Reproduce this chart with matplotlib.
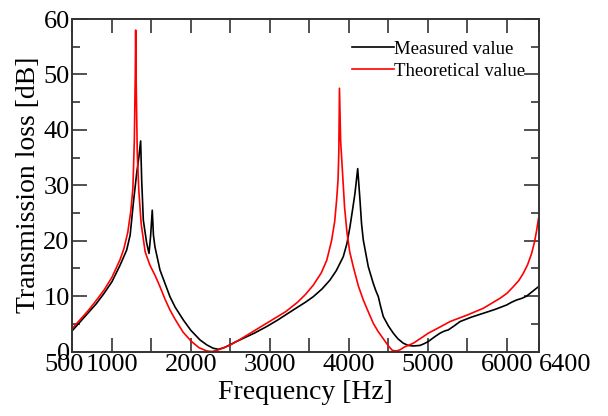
import matplotlib
matplotlib.use("Agg")
import matplotlib.pyplot as plt
from matplotlib.ticker import MultipleLocator
from matplotlib.transforms import ScaledTranslation

plt.rcParams['font.family'] = ['Liberation Serif', 'DejaVu Serif']

# measured (black)
f_meas = [500, 600, 700, 800, 900, 1000, 1100, 1186, 1230, 1270, 1313, 1340, 1363,
          1376, 1397, 1439, 1469, 1490, 1510, 1525, 1544, 1608, 1734, 1800, 1903,
          2000, 2114, 2200, 2280, 2346, 2420, 2494, 2560, 2620, 2800, 2958, 3100,
          3295, 3450, 3549, 3660, 3760, 3840, 3928, 3975, 4013, 4045, 4076, 4111,
          4140, 4160, 4182, 4245, 4308, 4340, 4372, 4400, 4435, 4500, 4562, 4620,
          4688, 4750, 4815, 4900, 4950, 5004, 5080, 5152, 5210, 5258, 5330, 5406,
          5550, 5701, 5850, 5997, 6060, 6123, 6190, 6250, 6320, 6400]
tl_meas = [3.8, 5.4, 7.0, 8.6, 10.5, 12.6, 15.5, 18.3, 21.0, 26.7, 32.2, 35.0, 38.0,
           31.0, 23.7, 19.6, 17.7, 21.0, 25.5, 21.0, 18.9, 14.7, 9.9, 8.0, 5.7,
           3.8, 2.1, 1.2, 0.6, 0.4, 0.7, 1.2, 1.7, 2.1, 3.3, 4.5, 5.7,
           7.5, 8.9, 9.9, 11.3, 12.9, 14.6, 17.1, 19.5, 22.5, 25.5, 28.5, 33.0,
           27.3, 23.0, 20.1, 15.3, 12.3, 11.0, 9.9, 8.2, 6.3, 4.6, 3.3, 2.3,
           1.5, 1.1, 1.0, 1.1, 1.4, 1.8, 2.6, 3.3, 3.7, 3.9, 4.6, 5.4,
           6.2, 6.9, 7.6, 8.4, 8.9, 9.3, 9.6, 10.0, 10.8, 11.7]

# theoretical (red)
f_theo = [500, 600, 700, 800, 900, 1000, 1100, 1150, 1200, 1240, 1265, 1283, 1295,
          1300, 1305, 1320, 1340, 1370, 1420, 1480, 1550, 1608, 1670, 1734, 1800,
          1900, 2000, 2100, 2200, 2262, 2330, 2400, 2500, 2600, 2750, 2900, 3050,
          3200, 3350, 3450, 3550, 3650, 3720, 3780, 3820, 3845, 3862, 3872, 3880,
          3895, 3920, 3945, 3975, 4010, 4055, 4120, 4182, 4250, 4308, 4370, 4435,
          4500, 4550, 4600, 4646, 4700, 4815, 4900, 5004, 5150, 5279, 5500, 5701,
          5912, 6000, 6081, 6150, 6207, 6260, 6313, 6350, 6377, 6400]
tl_theo = [4.2, 5.8, 7.4, 9.2, 11.1, 13.4, 16.5, 18.5, 21.5, 25.5, 29.5, 38.0, 50.0,
           58.0, 50.0, 36.0, 29.0, 23.0, 18.0, 15.6, 13.6, 11.7, 9.5, 7.5, 5.8,
           3.5, 1.9, 0.7, 0.1, 0.0, 0.2, 0.6, 1.2, 2.0, 3.3, 4.6, 5.9,
           7.2, 8.9, 10.3, 12.0, 14.2, 16.5, 20.0, 23.5, 27.5, 31.0, 36.0, 47.5,
           38.0, 32.0, 26.0, 21.5, 18.0, 15.3, 11.8, 9.3, 7.0, 5.1, 3.6, 2.3,
           1.0, 0.2, 0.1, 0.3, 0.8, 1.5, 2.3, 3.3, 4.4, 5.4, 6.6, 7.8,
           9.6, 10.5, 11.7, 12.8, 14.1, 15.6, 17.7, 19.8, 21.9, 24.0]

xticks = [500, 1000, 2000, 3000, 4000, 5000, 6000, 6400]

fig = plt.figure(figsize=(6.08, 4.16), dpi=100)
ax = fig.add_axes([0.1192, 0.155, 0.7665, 0.7993])

ax.plot(f_meas, tl_meas, color='black', lw=1.2, label='Measured value')
ax.plot(f_theo, tl_theo, color='red', lw=1.2, label='Theoretical value')

ax.set_xlim(500, 6400)
ax.set_ylim(0, 60)
ax.set_xticks(xticks)
ax.set_xticklabels([str(t) for t in xticks])
ax.xaxis.set_minor_locator(MultipleLocator(500))
ax.yaxis.set_major_locator(MultipleLocator(10))
ax.yaxis.set_minor_locator(MultipleLocator(5))
ax.tick_params(axis='both', which='both', direction='in', top=True, right=True,
               labelsize=19, width=1.2, color='#333333', pad=2)
ax.tick_params(axis='x', which='both', length=10)
ax.tick_params(axis='y', which='major', length=11)
ax.tick_params(axis='y', which='minor', length=6)
for s in ax.spines.values():
    s.set_linewidth(1.4)
    s.set_color('#333333')

# end labels pushed outwards like the original
labels = ax.get_xticklabels()
labels[0].set_transform(labels[0].get_transform() + ScaledTranslation(-0.08, 0, fig.dpi_scale_trans))
labels[-1].set_horizontalalignment('left')

ax.set_xlabel('Frequency [Hz]', fontsize=20, labelpad=3)
ax.set_ylabel('Transmission loss [dB]', fontsize=20, labelpad=2)

ax.legend(loc='upper right', bbox_to_anchor=(0.972, 0.935), frameon=False, fontsize=13.5,
          handlelength=2.25, handletextpad=0.0, labelspacing=0.25, borderaxespad=0,
          borderpad=0)

fig.savefig('out.png', dpi=100)
